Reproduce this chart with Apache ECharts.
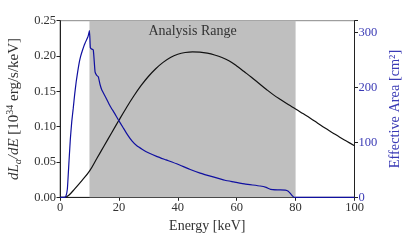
<!DOCTYPE html>
<html><head><meta charset="utf-8">
<script src="https://cdn.jsdelivr.net/npm/echarts@6/dist/echarts.min.js"></script>
<style>html,body{margin:0;padding:0;background:#fff}#c{width:411px;height:247px}</style>
</head><body><div id="c"></div>
<script>
// Energy [keV] and luminosity dL/dE [1e34 erg/s/keV]
const lumEnergy = [0,1.5,3,5,7.5,10,12.5,15,17.5,20,22.5,25,27.5,30,32.5,35,37.5,40,42.5,45,47.5,50,52.5,55,57.5,60,62.5,65,67.5,70,72.5,75,77.5,80,82.5,85,87.5,90,92.5,95,97.5,100];
const lumValues = [0,0,0.003,0.012,0.024,0.037,0.055,0.073,0.091,0.109,0.1265,0.143,0.158,0.171,0.182,0.191,0.198,0.2025,0.205,0.206,0.2055,0.204,0.2015,0.198,0.193,0.186,0.178,0.170,0.1615,0.153,0.145,0.138,0.1313,0.125,0.1185,0.112,0.105,0.098,0.0915,0.085,0.079,0.073];
// Energy [keV] and effective area [cm^2]
const areaEnergy = [0,1.5,2,2.5,3,3.5,4,4.5,5,5.5,6,6.5,7,7.5,8,8.5,9,9.5,10,10.3,10.6,11.3,11.9,12.4,13,13.6,14.2,15.5,17,18.5,19.8,21.5,23,24.5,26,28,30,33,36,40,44,47.6,52,56,59,63,68,70,71.5,74,76.5,77.5,78.2,79,79.5,85,90,100];
const areaValues = [0,0,2,15,60,105,138,162,188,210,228,244,256,265,273,280,286,292,303,272,270,268,228,222,219,205,195,182,166,153,141,126,113,102,94,87,81,74,68,60,51,44,37,31,28,24,20.5,18,14.5,13.5,13,11,7,2,0,0,0,0];
const xTicks = [0,20,40,60,80,100];
const areaTicks = [0,100,200,300];
const analysisRange = [10,80];

const serif = 'Liberation Serif';
const blueTxt = '#3a3ab5';
const chart = echarts.init(document.getElementById('c'), null, {renderer:'canvas'});
chart.setOption({
  animation:false,
  grid:{left:60,right:56.5,top:20.7,bottom:49.7,show:true,borderColor:'#888',borderWidth:1,outerBoundsMode:'none',containLabel:false},
  xAxis:{type:'value',min:xTicks[0],max:xTicks[xTicks.length-1],interval:20,
    name:'Energy [keV]',nameLocation:'middle',nameGap:19,
    nameTextStyle:{fontFamily:serif,fontSize:14,color:'#333'},
    axisLine:{show:true,lineStyle:{color:'#222',width:1}},
    axisTick:{show:true,length:3.5,lineStyle:{color:'#222'}},
    axisLabel:{fontFamily:serif,fontSize:12.5,color:'#333',margin:4},
    splitLine:{show:false}},
  yAxis:[
    {type:'value',min:0,max:0.25,interval:0.05,position:'left',
     name:'{i|dL}{s|a}{i|/dE} [10{p|34} erg/s/keV]',nameLocation:'middle',nameGap:28,nameRotate:90,
     nameTextStyle:{fontFamily:serif,fontSize:15,color:'#333',
       rich:{i:{fontFamily:serif,fontStyle:'italic',fontSize:15,color:'#333',lineHeight:18},
             s:{fontFamily:serif,fontStyle:'italic',fontSize:10,color:'#333',lineHeight:18,verticalAlign:'bottom'},
             p:{fontFamily:serif,fontSize:10,color:'#333',lineHeight:18,verticalAlign:'top'}}},
     axisLine:{show:true,lineStyle:{color:'#222'}},
     axisTick:{show:true,length:3.5,lineStyle:{color:'#222'}},
     axisLabel:{fontFamily:serif,fontSize:12.5,color:'#333',margin:4,formatter:v=>v.toFixed(2)},
     splitLine:{show:false}},
    {type:'value',min:0,max:321,interval:100,position:'right',
     name:'Effective Area [cm²]',nameLocation:'middle',nameGap:26,nameRotate:90,
     nameTextStyle:{fontFamily:serif,fontSize:14.3,color:blueTxt},
     axisLine:{show:true,lineStyle:{color:'#222'}},
     axisTick:{show:true,length:3.5,lineStyle:{color:'#222'}},
     axisLabel:{fontFamily:serif,fontSize:12.5,color:blueTxt,margin:4,
       formatter:v=>areaTicks.includes(v)?String(v):''},
     splitLine:{show:false}}
  ],
  series:[
    {type:'line',yAxisIndex:0,showSymbol:false,smooth:0.4,
     data:lumEnergy.map((e,i)=>[e,lumValues[i]]),
     lineStyle:{color:'#111',width:1.2},z:3,
     markArea:{silent:true,itemStyle:{color:'#bfbfbf'},
       label:{show:true,position:'insideTop',distance:4,formatter:'Analysis Range',fontFamily:serif,fontSize:14,color:'#333'},
       data:[[{xAxis:analysisRange[0]},{xAxis:analysisRange[1]}]]}},
    {type:'line',yAxisIndex:1,showSymbol:false,smooth:0.15,
     data:areaEnergy.map((e,i)=>[e,areaValues[i]]),
     lineStyle:{color:'#1010a0',width:1.2},z:4}
  ]
});
</script></body></html>
